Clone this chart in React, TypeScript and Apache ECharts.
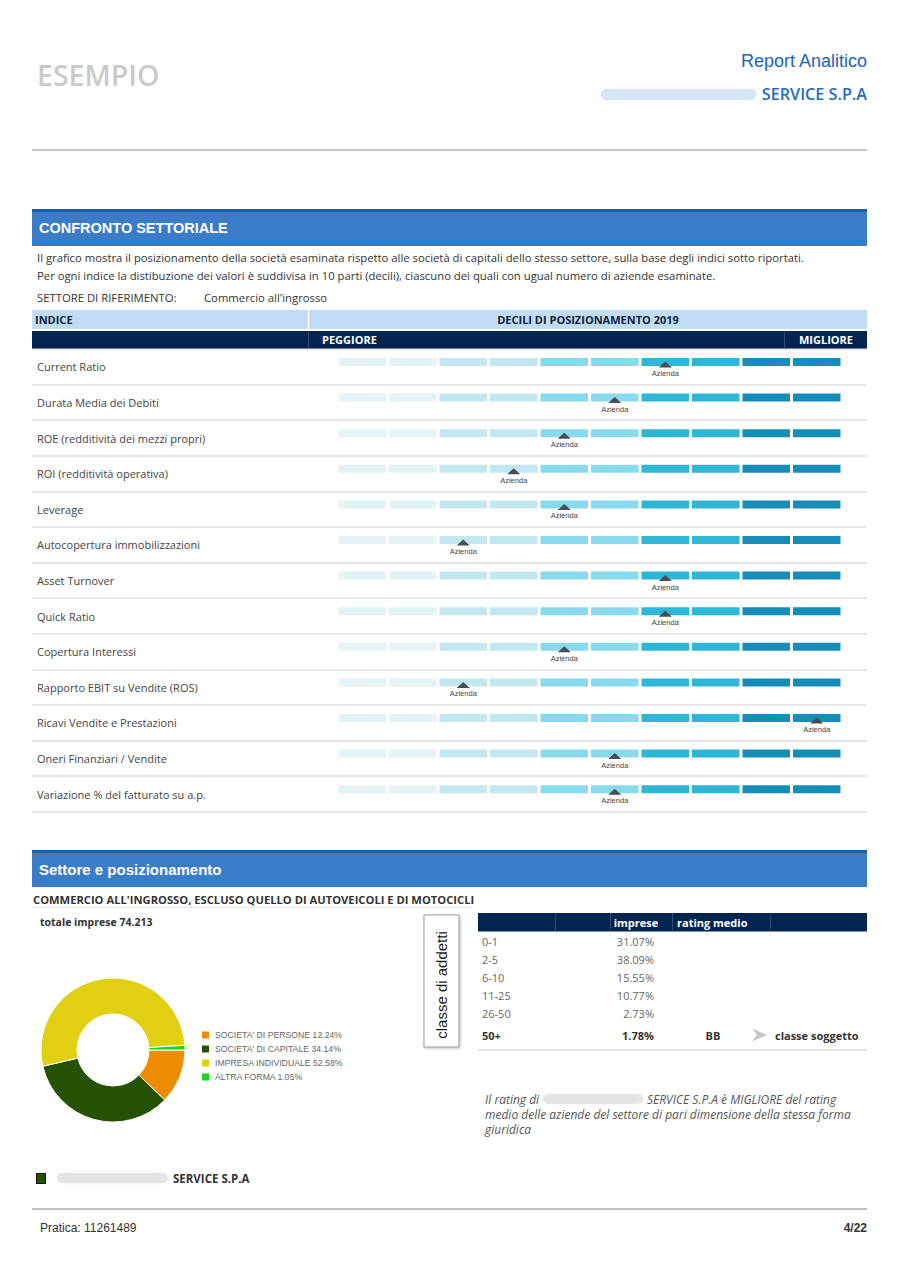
import React, { useEffect, useRef } from "react";
import * as echarts from "echarts";

// ---------- DATA ----------
const INDICI = [
  "Current Ratio",
  "Durata Media dei Debiti",
  "ROE (redditività dei mezzi propri)",
  "ROI (redditività operativa)",
  "Leverage",
  "Autocopertura immobilizzazioni",
  "Asset Turnover",
  "Quick Ratio",
  "Copertura Interessi",
  "Rapporto EBIT su Vendite (ROS)",
  "Ricavi Vendite e Prestazioni",
  "Oneri Finanziari / Vendite",
  "Variazione % del fatturato su a.p.",
];
const DECILE_AZIENDA = [7, 6, 5, 4, 5, 3, 7, 7, 5, 3, 10, 6, 6];
const DECILI = [1, 2, 3, 4, 5, 6, 7, 8, 9, 10];
const DECILE_COLORS = [
  "#e4f3f6", "#e4f3f6", "#c2e7f1", "#c2e7f1", "#88dbef",
  "#88dbef", "#2db6d6", "#2db6d6", "#168cb9", "#168cb9",
];

const FORME = ["SOCIETA' DI PERSONE", "SOCIETA' DI CAPITALE", "IMPRESA INDIVIDUALE", "ALTRA FORMA"];
const FORME_PCT = [12.24, 34.14, 52.58, 1.05];
const FORME_COLORS = ["#ee8c00", "#245200", "#e1cf13", "#14d61a"];

const CLASSI = ["0-1", "2-5", "6-10", "11-25", "26-50", "50+"];
const IMPRESE_PCT = [31.07, 38.09, 15.55, 10.77, 2.73, 1.78];
const RATING_MEDIO = ["", "", "", "", "", "BB"];

const TOTALE_IMPRESE = "74.213";

// ---------- STYLE HELPERS ----------
const OPEN = "'Open Sans', 'Noto Sans', sans-serif";
const ARIAL = "Arial, 'Liberation Sans', sans-serif";

const tx = (x: number, y: number, text: string, size: number, color: string, o: any = {}) => ({
  type: "text",
  x,
  y,
  rotation: o.rot || 0,
  silent: true,
  z: 20,
  style: {
    text,
    fill: color,
    fontSize: size,
    fontFamily: o.ff || OPEN,
    fontWeight: o.fw || "normal",
    fontStyle: o.fs || "normal",
    align: o.al || "left",
    verticalAlign: "middle",
  },
});
const rc = (x: number, y: number, w: number, h: number, style: any, z = 5, r = 0) => ({
  type: "rect",
  silent: true,
  z,
  shape: { x, y, width: w, height: h, r },
  style,
});
const ln = (x1: number, y1: number, x2: number, y2: number, stroke: string, lineWidth = 1, z = 5) => ({
  type: "line",
  silent: true,
  z,
  shape: { x1, y1, x2, y2 },
  style: { stroke, lineWidth },
});
const blur = (x: number, y: number, w: number, h: number, color: string) =>
  rc(x, y, w, h, { fill: color, shadowBlur: 8, shadowColor: color }, 6, h / 2);

const ROW_TOP = 349;
const ROW_H = 35.6;

function buildOption() {
  const g: any[] = [];

  // Header
  g.push(tx(37, 75, "ESEMPIO", 28.5, "#cacaca", { fw: 600 }));
  g.push(tx(867, 61, "Report Analitico", 18, "#1b63c1", { ff: ARIAL, al: "right" }));
  g.push(blur(601, 89, 155, 11, "rgba(175,203,238,0.45)"));
  g.push(tx(867, 94, "SERVICE S.P.A", 16.2, "#1f6cc4", { fw: 600, al: "right" }));
  g.push(ln(32, 150, 867, 150, "#b5b5b5", 1.5));

  // Section 1 band
  g.push(rc(32, 209, 835, 37, { fill: "#3b7cc9" }));
  g.push(rc(32, 209, 835, 3, { fill: "#1b5ca6" }));
  g.push(tx(39, 228, "CONFRONTO SETTORIALE", 14.5, "#ffffff", { ff: ARIAL, fw: "bold" }));

  g.push(tx(37, 257, "Il grafico mostra il posizionamento della società esaminata rispetto alle società di capitali dello stesso settore, sulla base degli indici sotto riportati.", 11.3, "#333"));
  g.push(tx(37, 275, "Per ogni indice la distibuzione dei valori è suddivisa in 10 parti (decili), ciascuno dei quali con ugual numero di aziende esaminate.", 11.3, "#333"));
  g.push(tx(37, 297, "SETTORE DI RIFERIMENTO:", 11.3, "#333"));
  g.push(tx(204, 297, "Commercio all'ingrosso", 11.3, "#333"));

  // Deciles table header
  g.push(rc(32, 310, 835, 19, { fill: "#c1dcf4" }));
  g.push(ln(308.5, 310, 308.5, 329, "#ffffff", 1.5, 6));
  g.push(tx(35, 319.5, "INDICE", 11, "#0a1f3d", { fw: "bold" }));
  g.push(tx(588, 319.5, "DECILI DI POSIZIONAMENTO 2019", 11, "#0a1f3d", { fw: "bold", al: "center" }));
  g.push(rc(32, 331, 835, 17.5, { fill: "#03244f" }));
  g.push(ln(308.5, 331, 308.5, 348.5, "#2c4b78", 1, 6));
  g.push(ln(784.5, 331, 784.5, 348.5, "#2c4b78", 1, 6));
  g.push(tx(322, 339.5, "PEGGIORE", 11, "#ffffff", { fw: "bold" }));
  g.push(tx(799, 339.5, "MIGLIORE", 11, "#ffffff", { fw: "bold" }));

  // Section 2 band
  g.push(rc(32, 850, 835, 37, { fill: "#3b7cc9" }));
  g.push(rc(32, 850, 835, 3, { fill: "#1b5ca6" }));
  g.push(tx(39, 869, "Settore e posizionamento", 15, "#ffffff", { ff: ARIAL, fw: "bold" }));
  g.push(tx(33, 899, "COMMERCIO ALL'INGROSSO, ESCLUSO QUELLO DI AUTOVEICOLI E DI MOTOCICLI", 11.2, "#333", { fw: "bold" }));
  g.push(ln(32, 907.5, 470, 907.5, "#e8e8e8", 1));
  g.push(tx(40, 922, "totale imprese " + TOTALE_IMPRESE, 10.5, "#333", { fw: "bold" }));

  // classe di addetti box
  g.push(rc(424, 915, 35, 132, { fill: "#ffffff", stroke: "#9a9a9a", lineWidth: 1, shadowBlur: 3, shadowColor: "rgba(0,0,0,0.25)", shadowOffsetX: 1, shadowOffsetY: 1 }, 6));
  g.push(tx(441, 985, "classe di addetti", 15, "#1a1a1a", { ff: ARIAL, al: "center", rot: Math.PI / 2 }));

  // Right table
  g.push(rc(478, 913, 389, 18.5, { fill: "#03244f" }));
  [555, 610, 672, 770].forEach((x) => g.push(ln(x + 0.5, 913, x + 0.5, 931.5, "#2c4b78", 1, 6)));
  g.push(tx(636, 922, "imprese", 11, "#ffffff", { fw: "bold", al: "center" }));
  g.push(tx(677, 922, "rating medio", 11, "#ffffff", { fw: "bold" }));
  CLASSI.forEach((c, i) => {
    const last = i === CLASSI.length - 1;
    const y = last ? 1035 : 941 + 18 * i;
    const col = last ? "#333" : "#666";
    const fw = last ? "bold" : "normal";
    g.push(tx(482, y, c, 11, col, { fw }));
    g.push(tx(654, y, IMPRESE_PCT[i].toFixed(2) + "%", 11, col, { fw, al: "right" }));
    if (RATING_MEDIO[i]) {
      g.push(tx(713, y, RATING_MEDIO[i], 11, "#333", { fw: "bold", al: "center" }));
      g.push({
        type: "polygon",
        silent: true,
        z: 20,
        shape: { points: [[752, y - 6.5], [767, y], [752, y + 6.5], [757, y]] },
        style: { fill: "#c4c4c4" },
      });
      g.push(tx(775, y, "classe soggetto", 11, "#333", { fw: "bold" }));
    }
  });
  g.push(ln(478, 1050, 867, 1050, "#dddddd", 1.5));

  // italic note
  g.push(tx(485, 1099, "Il rating di", 12, "#555", { fs: "italic" }));
  g.push(blur(543, 1094, 100, 10, "rgba(210,210,210,0.5)"));
  g.push(tx(647, 1099, "SERVICE S.P.A è MIGLIORE del rating", 12, "#555", { fs: "italic" }));
  g.push(tx(485, 1114, "medio delle aziende del settore di pari dimensione della stessa forma", 12, "#555", { fs: "italic" }));
  g.push(tx(485, 1129, "giuridica", 12, "#555", { fs: "italic" }));

  // bottom legend
  g.push(rc(36.5, 1173.5, 9, 10, { fill: "#245200", stroke: "#111", lineWidth: 1 }, 6));
  g.push(blur(57, 1173, 111, 10, "rgba(210,210,210,0.5)"));
  g.push(tx(173, 1178, "SERVICE S.P.A", 11.5, "#333", { fw: "bold" }));

  // footer
  g.push(ln(32, 1209, 867, 1209, "#aaaaaa", 1.5));
  g.push(tx(40, 1228, "Pratica: 11261489", 12, "#333", { ff: ARIAL }));
  g.push(tx(867, 1228, "4/22", 12, "#333", { ff: ARIAL, fw: "bold", al: "right" }));

  const gridH = ROW_H * INDICI.length;

  const barSeries = DECILI.map((d, i) => ({
    type: "bar",
    name: "decile " + d,
    xAxisIndex: 1,
    yAxisIndex: 1,
    stack: "decili",
    barWidth: 11,
    silent: true,
    data: INDICI.map(() => 1),
    itemStyle: { color: DECILE_COLORS[i], borderColor: "#ffffff", borderWidth: 1.5 },
  }));

  return {
    animation: false,
    backgroundColor: "#ffffff",
    graphic: { elements: g },
    legend: {
      orient: "vertical",
      left: 200,
      top: 1029.5,
      padding: 0,
      itemWidth: 9,
      itemHeight: 9,
      itemGap: 3,
      icon: "rect",
      selectedMode: false,
      data: FORME,
      textStyle: { fontSize: 8.7, color: "#666", fontFamily: ARIAL },
      formatter: (name: string) => `${name} ${FORME_PCT[FORME.indexOf(name)].toFixed(2)}%`,
    },
    grid: [
      { left: 32, top: ROW_TOP, width: 835, height: gridH },
      { left: 337, top: ROW_TOP - 4.8, width: 505, height: gridH },
    ],
    xAxis: [
      { gridIndex: 0, type: "value", min: 0, max: 1, show: false },
      { gridIndex: 1, type: "value", min: 0, max: 10, show: false },
    ],
    yAxis: [
      {
        gridIndex: 0,
        type: "category",
        data: INDICI,
        inverse: true,
        axisLine: { show: false },
        axisTick: { show: false },
        axisLabel: { inside: true, margin: 5, color: "#444", fontSize: 11, fontFamily: OPEN },
        splitLine: { show: true, lineStyle: { color: "#dedede", width: 1.5 } },
      },
      { gridIndex: 1, type: "category", data: INDICI, inverse: true, show: false },
    ],
    series: [
      ...barSeries,
      {
        type: "scatter",
        name: "Azienda",
        xAxisIndex: 1,
        yAxisIndex: 1,
        silent: true,
        z: 5,
        symbol: "triangle",
        symbolSize: [13, 6],
        symbolOffset: [0, 2.5],
        itemStyle: { color: "#474d55", opacity: 1 },
        data: DECILE_AZIENDA.map((d, i) => [d - 0.5, i]),
        label: {
          show: true,
          position: "bottom",
          distance: 2,
          formatter: "Azienda",
          fontSize: 7.5,
          color: "#444",
          fontFamily: ARIAL,
        },
      },
      {
        type: "pie",
        silent: true,
        center: [113, 1050],
        radius: [36, 72],
        startAngle: 0,
        clockwise: true,
        label: { show: false },
        labelLine: { show: false },
        itemStyle: { borderColor: "#ffffff", borderWidth: 1 },
        data: FORME.map((n, i) => ({ name: n, value: FORME_PCT[i], itemStyle: { color: FORME_COLORS[i] } })),
      },
    ],
  };
}

export default function App() {
  const ref = useRef<HTMLDivElement>(null);
  useEffect(() => {
    const chart = echarts.init(ref.current as HTMLDivElement, null, { renderer: "svg", width: 900, height: 1273 });
    chart.setOption(buildOption() as any);
    return () => chart.dispose();
  }, []);
  return (
    <div
      ref={ref}
      style={{ position: "absolute", left: 0, top: 0, width: 900, height: 1273, background: "#fff" }}
    />
  );
}
